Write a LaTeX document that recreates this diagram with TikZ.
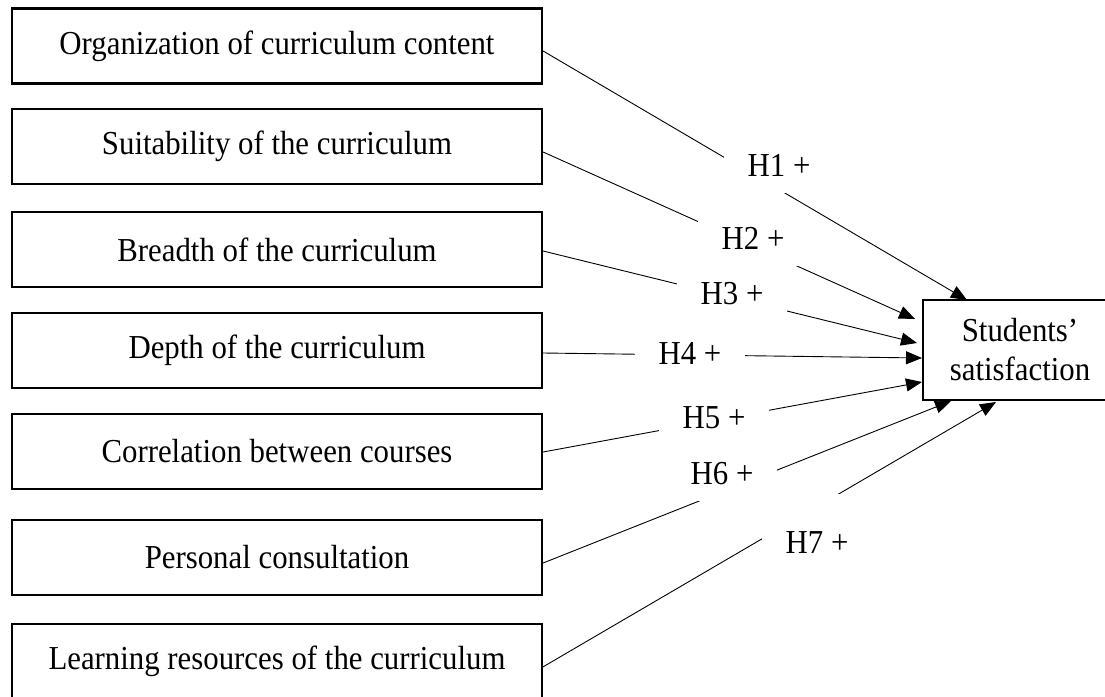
\documentclass[tikz,border=0pt]{standalone}
\usepackage{fontspec}
\setmainfont[FakeStretch=0.92]{Liberation Serif}
\usetikzlibrary{calc, arrows.meta}
\newcommand{\Factor}[3]{%
    % #1 : name
    % #2 : y
    % #3 : text
    \node[factor] (#1) at (\xmid,#2) {#3};
}

\begin{document}
\begin{tikzpicture}[
        x=1pt, y=-1pt,
        font=\fontsize{33.5}{39}\selectfont,
        factor/.style={draw, line width=2.2pt, minimum width=530pt,
            minimum height=75pt, inner sep=0pt},
        outcome/.style={draw, line width=2.2pt, minimum width=194pt,
            minimum height=100pt, align=center, inner sep=0pt},
        hyp/.style={fill=white, minimum width=110pt, inner sep=0pt,
            text height=38pt, text depth=17pt, anchor=base},
        link/.style={line width=0.9pt, -{Triangle[length=16pt,width=13pt]}},
    ]

    \useasboundingbox (0,0) rectangle (1105,696);

    \def\xleft{12}
    \def\xright{542}
    \pgfmathsetmacro{\xmid}{(\xleft+\xright)/2}

    % factors
    \Factor{f1}{46}{Organization of curriculum content};
    \Factor{f2}{146.5}{Suitability of the curriculum};
    \Factor{f3}{249.5}{Breadth of the curriculum};
    \Factor{f4}{350.5}{Depth of the curriculum};
    \Factor{f5}{451.5}{Correlation between courses};
    \Factor{f6}{557.5}{Personal consultation};
    \Factor{f7}{661.5}{Learning resources of the curriculum};

    % outcome
    \node[outcome] (sat) at (1020,350) {Students’\\satisfaction};

    \coordinate (in1) at (967,300);
    \coordinate (in2) at (915,319);
    \coordinate (in3) at (917,343);
    \coordinate (in4) at (922,358);
    \coordinate (in5) at (922,382);
    \coordinate (in6) at (951,401);
    \coordinate (in7) at (996,402);

    \draw[link] ($(f1.east)+(0,5)$) -- (in1);
    \draw[link] ($(f2.east)+(0,5.5)$) -- (in2);
    \draw[link] ($(f3.east)+(0,1.5)$) -- (in3);
    \draw[link] ($(f4.east)+(0,2.5)$) -- (in4);
    \draw[link] ($(f5.east)+(0,0.5)$) -- (in5);
    \draw[link] ($(f6.east)+(0,5.5)$) -- (in6);
    \draw[link] ($(f7.east)+(-2,6.5)$) -- (in7);

    % hypotheses
    \node[hyp] (h1) at (779,176) {H1 +};
    \node[hyp] (h2) at (753,249) {H2 +};
    \node[hyp] (h3) at (732,304) {H3 +};
    \node[hyp] (h4) at (690,364) {H4 +};
    \node[hyp] (h5) at (714,428) {H5 +};
    \node[hyp] (h6) at (722,484) {H6 +};
    \node[hyp, text height=59pt] (h7) at (817,553) {H7 +};

\end{tikzpicture}
\end{document}
